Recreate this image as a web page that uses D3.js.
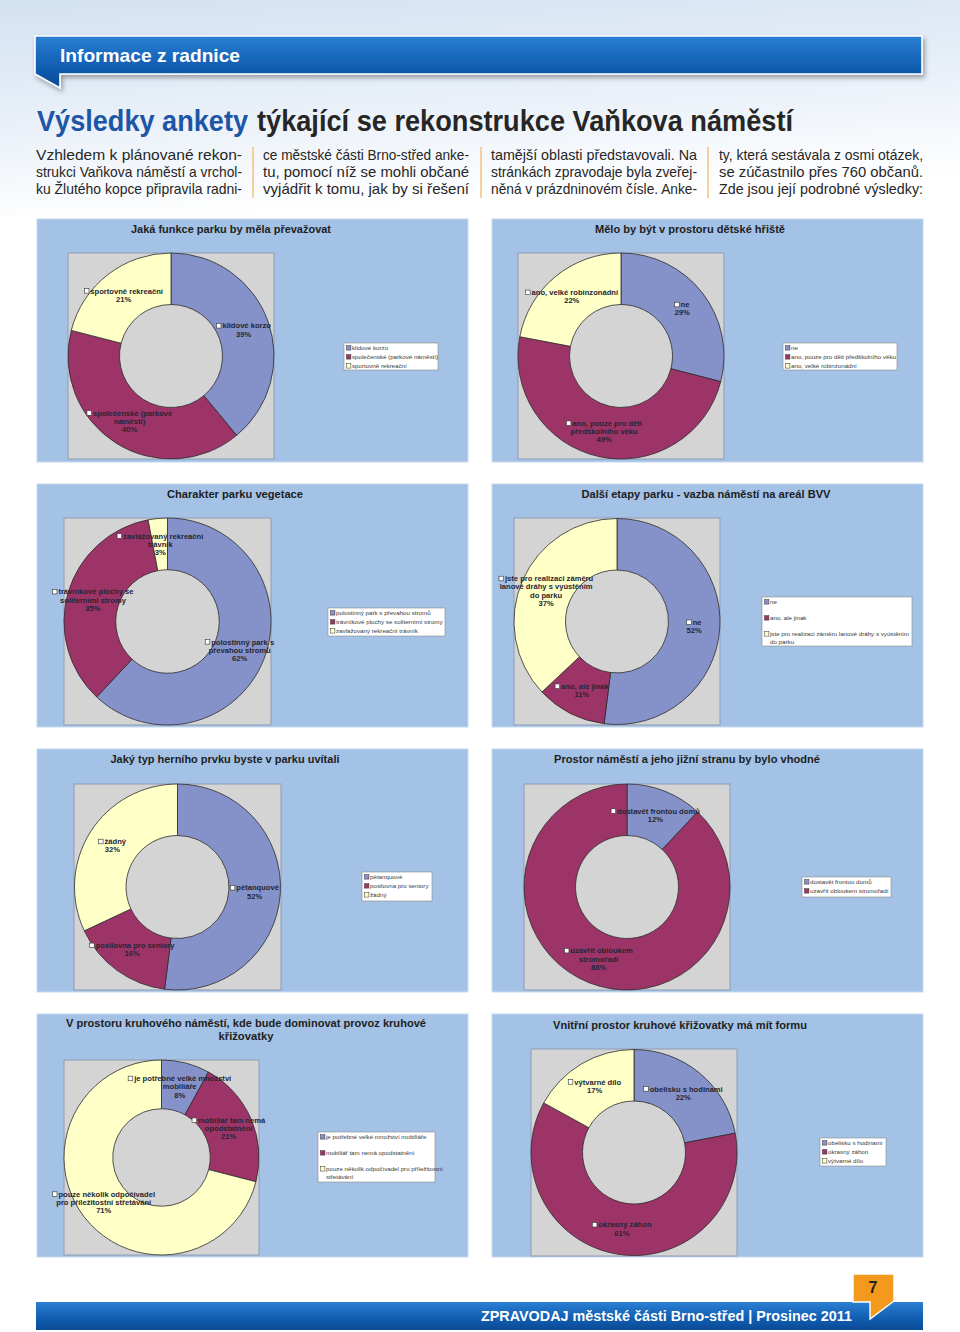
<!DOCTYPE html>
<html><head><meta charset="utf-8">
<script src="https://cdn.jsdelivr.net/npm/d3@7/dist/d3.min.js"></script>
<style>body{margin:0;background:#fff}svg{display:block}</style>
</head><body>
<svg id="c" width="960" height="1332"></svg>
<script>
// ---------- DATA ----------
const headerText = "Informace z radnice";
const titleBlue = "Výsledky ankety";
const titleDark = "týkající se rekonstrukce Vaňkova náměstí";
const bodyColumns = [
  ["Vzhledem k plánované rekon-", "strukci Vaňkova náměstí a vrchol-", "ku Žlutého kopce připravila radni-"],
  ["ce městské části Brno-střed anke-", "tu, pomocí níž se mohli občané", "vyjádřit k tomu, jak by si řešení"],
  ["tamější oblasti představovali. Na", "stránkách zpravodaje byla zveřej-", "něná v prázdninovém čísle. Anke-"],
  ["ty, která sestávala z osmi otázek,", "se zúčastnilo přes 760 občanů.", "Zde jsou její podrobné výsledky:"]
];
const footerText = "ZPRAVODAJ městské části Brno-střed | Prosinec 2011";
const pageNumber = "7";

const chartTitles = [
  ["Jaká funkce parku by měla převažovat"],
  ["Mělo by být v prostoru dětské hřiště"],
  ["Charakter parku vegetace"],
  ["Další etapy parku - vazba náměstí na areál BVV"],
  ["Jaký typ herního prvku byste v parku uvítali"],
  ["Prostor náměstí a jeho jižní stranu by bylo vhodné"],
  ["V prostoru kruhového náměstí, kde bude dominovat provoz kruhové", "křižovatky"],
  ["Vnitřní prostor kruhové křižovatky má mít formu"]
];

const cats1 = ["klidové korzo", "společenské (parkové náměstí)", "sportovně rekreační"];
const vals1 = [39, 40, 21];
const labs1 = ["klidové korzo", "společenské (parkové\nnáměstí)", "sportovně rekreační"];

const cats2 = ["ne", "ano, pouze pro děti předškolního věku", "ano, velké robinzonádní"];
const vals2 = [29, 49, 22];
const labs2 = [" ne", "ano, pouze pro děti\npředškolního věku", "ano, velké robinzonádní"];

const cats3 = ["polostinný park s převahou stromů", "trávníkové plochy se soliterními stromy", "zavlažovaný rekreační trávník"];
const vals3 = [62, 35, 3];
const labs3 = ["polostinný park s\npřevahou stromů", "trávníkové plochy se\nsoliterními stromy", "zavlažovaný rekreační\ntrávník"];

const cats4 = ["ne", "ano, ale jinak", "jste pro realizaci záměru lanové dráhy s vyústěním\ndo parku"];
const vals4 = [52, 11, 37];
const labs4 = [" ne", "ano, ale jinak", " jste pro realizaci záměru\nlanové dráhy s vyústěním\ndo parku"];

const cats5 = ["pétanquové", "posilovna pro seniory", "žádný"];
const vals5 = [52, 16, 32];
const labs5 = ["pétanquové", "posilovna pro seniory", "žádný"];

const cats6 = ["dostavět frontou domů", "uzavřít obloukem stromořadí"];
const vals6 = [12, 88];
const labs6 = ["dostavět frontou domů", "uzavřít obloukem\nstromořadí"];

const cats7 = ["je potřebné velké množství mobiliáře", "mobiliář tam nemá opodstatnění", "pouze několik odpočívadel pro příležitostní\nstřetávání"];
const vals7 = [8, 21, 71];
const labs7 = ["je potřebné velké množství\nmobiliáře", "mobiliář tam nemá\nopodstatnění", "pouze několik odpočívadel\npro příležitostní střetávání"];

const cats8 = ["obelisku s hodinami", "okrasný záhon", "výtvarné dílo"];
const vals8 = [22, 61, 17];
const labs8 = ["obelisku s hodinami", "okrasný záhon", "výtvarné dílo"];

const sliceColors = ["#8592c9", "#9d3468", "#ffffc8"];

// ---------- LAYOUT ----------
const layout = [
  {panel:[37,219,431,243], title:{x:231,y:233,w:[200]}, plot:[68,253,206,206], legend:{x:344,y:343,w:94,h:27,gap:9}},
  {panel:[492,219,431,243], title:{x:690,y:233,w:[190]}, plot:[518,253,206,206], legend:{x:783,y:343,w:114,h:27,gap:9}},
  {panel:[37,484,431,243], title:{x:235,y:498,w:[136]}, plot:[64,518,207,207], legend:{x:328,y:608,w:117,h:28,gap:9}},
  {panel:[492,484,431,243], title:{x:706,y:498,w:[249]}, plot:[514,518,206,207], legend:{x:762,y:597,w:150,h:49,gap:16}},
  {panel:[37,749,431,243], title:{x:225,y:763,w:[229]}, plot:[74,784,207,206], legend:{x:362,y:872,w:70,h:29,gap:9}},
  {panel:[492,749,431,243], title:{x:687,y:763,w:[266]}, plot:[524,784,206,206], legend:{x:802,y:877,w:89,h:20,gap:9}},
  {panel:[37,1014,431,243], title:{x:246,y:1027,w:[360,55]}, plot:[64,1060,195,195], legend:{x:318,y:1132,w:117,h:50,gap:16}},
  {panel:[492,1014,431,243], title:{x:680,y:1029,w:[254]}, plot:[531,1049,206,207], legend:{x:820,y:1138,w:66,h:28,gap:9}}
];
const charts = [
  [cats1, vals1, labs1], [cats2, vals2, labs2], [cats3, vals3, labs3], [cats4, vals4, labs4],
  [cats5, vals5, labs5], [cats6, vals6, labs6], [cats7, vals7, labs7], [cats8, vals8, labs8]
];

const svg = d3.select("#c");
const defs = svg.append("defs");
const FONT = "'Liberation Sans', Arial, sans-serif";
const NARROW = "'Liberation Sans Narrow', 'Liberation Sans', Arial, sans-serif";

// background gradient
const bg = defs.append("linearGradient").attr("id","bg").attr("x1",0).attr("y1",0).attr("x2",0.25).attr("y2",1);
bg.append("stop").attr("offset","0%").attr("stop-color","#d3e2f1");
bg.append("stop").attr("offset","55%").attr("stop-color","#e9f0f8");
bg.append("stop").attr("offset","100%").attr("stop-color","#ffffff");
svg.append("rect").attr("width",960).attr("height",1332).attr("fill","#fff");
svg.append("rect").attr("width",960).attr("height",215).attr("fill","url(#bg)");

const bl = defs.append("linearGradient").attr("id","blue").attr("x1",0).attr("y1",0).attr("x2",0).attr("y2",1);
bl.append("stop").attr("offset","0%").attr("stop-color","#2b7fd3");
bl.append("stop").attr("offset","55%").attr("stop-color","#1260b4");
bl.append("stop").attr("offset","100%").attr("stop-color","#0a4a95");
const sh = defs.append("filter").attr("id","sh").attr("x","-5%").attr("y","-30%").attr("width","110%").attr("height","180%");
sh.append("feDropShadow").attr("dx",2).attr("dy",3).attr("stdDeviation",2.5).attr("flood-color","#000").attr("flood-opacity",0.35);

// header banner
svg.append("path").attr("d","M35,36 L922,36 L922,74 L60,74 L60,88 L35,74 Z")
  .attr("fill","url(#blue)").attr("stroke","#fff").attr("stroke-width",1.6).attr("filter","url(#sh)");
svg.append("text").attr("x",60).attr("y",62).attr("fill","#fff").attr("font-family",NARROW)
  .attr("font-weight","bold").attr("font-size",19).attr("textLength",180).attr("lengthAdjust","spacingAndGlyphs").text(headerText);

// title
svg.append("text").attr("x",37).attr("y",131).attr("fill","#1d56a6").attr("font-family",NARROW)
  .attr("font-weight","bold").attr("font-size",29).attr("textLength",211).attr("lengthAdjust","spacingAndGlyphs").text(titleBlue);
svg.append("text").attr("x",257).attr("y",131).attr("fill","#262626").attr("font-family",NARROW)
  .attr("font-weight","bold").attr("font-size",29).attr("textLength",536).attr("lengthAdjust","spacingAndGlyphs").text(titleDark);

// body columns
const colX = [36, 263, 491, 719], colW = [206, 206, 206, 204];
bodyColumns.forEach((lines, ci) => {
  lines.forEach((ln, li) => {
    svg.append("text").attr("x", colX[ci]).attr("y", 160 + li*17.2).attr("fill","#262626")
      .attr("font-family",NARROW).attr("font-size",15).attr("textLength",colW[ci]).attr("lengthAdjust","spacingAndGlyphs").text(ln);
  });
});
[253, 481, 708].forEach(x => svg.append("line").attr("x1",x).attr("x2",x).attr("y1",147).attr("y2",198).attr("stroke","#f1a63f").attr("stroke-width",1));

// charts
charts.forEach((ch, i) => {
  const [cats, vals, labs] = ch;
  const L = layout[i];
  const g = svg.append("g");
  g.append("rect").attr("x",L.panel[0]).attr("y",L.panel[1]).attr("width",L.panel[2]).attr("height",L.panel[3])
    .attr("fill","#a3c2e6").attr("stroke","#c4d9ef").attr("stroke-width",1);
  L.title.w.forEach((w, k) => {
    g.append("text").attr("x",L.title.x).attr("y",L.title.y + k*13).attr("text-anchor","middle")
      .attr("font-family",FONT).attr("font-weight","bold").attr("font-size",10.5).attr("fill","#1e1e1e")
      .attr("textLength",w).attr("lengthAdjust","spacingAndGlyphs").text(chartTitles[i][k]);
  });
  const [px, py, pw, ph] = L.plot;
  g.append("rect").attr("x",px).attr("y",py).attr("width",pw).attr("height",ph).attr("fill","#d4d4d4").attr("stroke","#8d9cb3").attr("stroke-width",1);
  const cx = px + pw/2, cy = py + ph/2, r = Math.min(pw, ph)/2;
  const pie = d3.pie().sort(null).value(d => d.v);
  const arcs = pie(vals.map((v, k) => ({v, k})));
  const arc = d3.arc().innerRadius(r*0.5).outerRadius(r);
  const cg = g.append("g").attr("transform",`translate(${cx},${cy})`);
  cg.selectAll("path").data(arcs).join("path").attr("d",arc)
    .attr("fill", d => sliceColors[d.data.k]).attr("stroke","#2b2b2b").attr("stroke-width",0.8);
  // labels
  arcs.forEach(a => {
    const [lx, ly] = arc.centroid(a);
    const lines = labs[a.data.k].split("\n").concat([vals[a.data.k] + "%"]);
    const lh = 8.2;
    const y0 = ly - (lines.length - 1) * lh / 2 + 2.7;
    lines.forEach((ln, j) => {
      const t = cg.append("text").attr("y", y0 + j*lh).attr("font-family",FONT).attr("font-weight","bold")
        .attr("font-size",7.6).attr("fill","#262633").text(ln);
      if (j === 0) {
        const w = t.node().getComputedTextLength();
        const tot = w + 6;
        const x0 = lx - tot/2;
        t.attr("x", x0 + 6);
        cg.append("rect").attr("x", x0).attr("y", y0 - 5).attr("width",4.6).attr("height",4.6)
          .attr("fill","#fff").attr("stroke","#333").attr("stroke-width",0.6);
      } else {
        t.attr("x", lx).attr("text-anchor","middle");
      }
    });
  });
  // legend
  const lg = L.legend;
  g.append("rect").attr("x",lg.x).attr("y",lg.y).attr("width",lg.w).attr("height",lg.h).attr("fill","#fff").attr("stroke","#8a8a8a").attr("stroke-width",0.6);
  cats.forEach((c, k) => {
    const yy = lg.y + 5 + k*lg.gap;
    g.append("rect").attr("x",lg.x+2.5).attr("y",yy-2.3).attr("width",4.4).attr("height",4.4)
      .attr("fill",sliceColors[k]).attr("stroke","#333").attr("stroke-width",0.5);
    c.split("\n").forEach((ln, j) => {
      g.append("text").attr("x",lg.x+8).attr("y",yy + 2.2 + j*7.5).attr("font-family",FONT)
        .attr("font-size",6.2).attr("fill","#3a3a3a").text(ln);
    });
  });
});

// footer
svg.append("rect").attr("x",36).attr("y",1302).attr("width",887).attr("height",28).attr("fill","url(#blue)");
svg.append("text").attr("x",481).attr("y",1321).attr("fill","#fff").attr("font-family",FONT).attr("font-weight","bold")
  .attr("font-size",14.5).attr("textLength",371).attr("lengthAdjust","spacingAndGlyphs").text(footerText);
svg.append("path").attr("d","M853,1274 L894,1274 L894,1301 L870,1319 L870,1302 L853,1302 Z")
  .attr("fill","#f39a1e").attr("stroke","#fff").attr("stroke-width",1.4);
svg.append("text").attr("x",873).attr("y",1293).attr("text-anchor","middle").attr("fill","#222")
  .attr("font-family",FONT).attr("font-weight","bold").attr("font-size",16).text(pageNumber);
</script>
</body></html>
